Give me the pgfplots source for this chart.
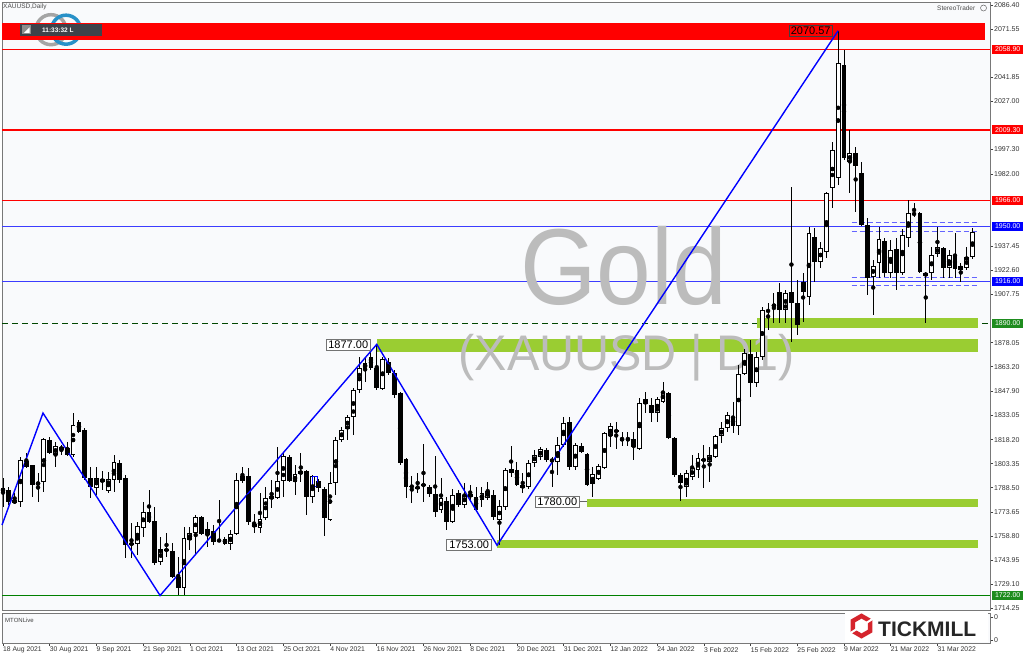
\documentclass[border=0pt]{standalone}
\usepackage{fontspec}
\setmainfont{Liberation Sans}
\usepackage{pgfplots}
\usepackage{pgfplotstable}
\pgfplotsset{compat=1.18}
\definecolor{chartbg}{RGB}{249,250,252}
\definecolor{bandgreen}{RGB}{154,205,50}
\definecolor{mtred}{RGB}{255,0,0}
\definecolor{mtblue}{RGB}{0,0,255}
\definecolor{lineblue}{RGB}{60,60,255}
\definecolor{dashblue}{RGB}{100,100,255}
\definecolor{mtgreen}{RGB}{0,128,0}
\definecolor{lblgreen}{RGB}{30,140,30}
\definecolor{wm}{RGB}{188,188,188}
\definecolor{framegray}{RGB}{120,120,120}
\definecolor{tickred}{RGB}{213,36,44}
\definecolor{darkbox}{RGB}{62,66,74}
\definecolor{ringgray}{RGB}{165,165,165}
\definecolor{ringblue}{RGB}{40,145,200}

\pgfplotstableread{
i O H L C
0 1785.9 1794.5 1776.6 1788.3
1 1787.1 1789.0 1777.9 1779.7
2 1779.1 1785.3 1778.5 1780.9
3 1779.7 1807.5 1776.6 1805.6
4 1805.0 1810.0 1800.7 1801.3
5 1802.5 1802.5 1782.8 1790.2
6 1790.2 1797.6 1779.7 1792.0
7 1792.0 1819.2 1785.9 1818.6
8 1818.0 1819.8 1809.3 1810.0
9 1808.7 1816.7 1801.3 1814.3
10 1811.8 1815.0 1808.7 1813.7
11 1813.0 1816.7 1808.1 1808.7
12 1808.7 1834.6 1807.5 1827.2
13 1829.1 1830.3 1822.3 1822.9
14 1824.1 1825.4 1793.3 1794.5
15 1794.5 1801.3 1782.2 1789.0
16 1788.3 1801.3 1784.0 1794.5
17 1793.9 1798.8 1787.1 1792.0
18 1786.5 1798.2 1785.3 1793.9
19 1793.3 1808.7 1785.9 1804.4
20 1803.8 1805.6 1791.4 1793.3
21 1794.5 1796.4 1745.2 1753.2
22 1753.2 1766.8 1745.2 1754.4
23 1753.8 1767.4 1747.0 1764.9
24 1763.7 1779.7 1758.1 1773.5
25 1773.5 1787.1 1766.8 1767.4
26 1768.0 1776.6 1740.8 1742.1
27 1742.7 1758.1 1740.8 1750.7
28 1750.7 1760.6 1745.8 1749.5
29 1749.5 1754.4 1732.8 1733.4
30 1733.4 1745.8 1722.3 1726.6
31 1726.6 1764.3 1722.3 1757.5
32 1756.3 1764.3 1750.1 1760.6
33 1760.6 1771.7 1747.0 1770.5
34 1770.5 1771.1 1759.3 1760.0
35 1759.3 1767.4 1752.0 1763.0
36 1761.8 1765.5 1753.2 1755.0
37 1756.3 1780.9 1755.0 1755.6
38 1756.9 1758.1 1753.2 1753.8
39 1753.8 1762.4 1750.1 1760.0
40 1760.0 1797.6 1759.3 1793.3
41 1792.7 1801.3 1791.4 1795.7
42 1795.7 1800.7 1765.5 1767.4
43 1766.2 1772.3 1760.6 1764.3
44 1763.7 1785.3 1760.6 1769.2
45 1769.8 1789.0 1768.6 1782.2
46 1781.6 1793.3 1776.0 1783.4
47 1782.2 1813.7 1781.6 1792.7
48 1792.7 1810.0 1782.8 1808.1
49 1807.5 1808.7 1792.0 1792.7
50 1792.0 1802.5 1784.0 1797.0
51 1797.0 1810.0 1792.0 1798.8
52 1798.8 1799.5 1771.7 1782.8
53 1782.8 1796.4 1779.1 1795.7
54 1792.7 1793.9 1785.9 1788.3
55 1787.7 1789.0 1758.7 1769.8
56 1768.6 1798.2 1768.0 1791.4
57 1791.4 1819.8 1784.0 1818.0
58 1818.0 1826.0 1816.7 1824.1
59 1824.8 1833.4 1818.0 1832.2
60 1832.2 1850.1 1821.0 1848.8
61 1848.8 1869.2 1847.0 1862.4
62 1861.8 1869.2 1853.8 1865.5
63 1869.2 1873.5 1861.2 1862.4
64 1862.4 1877.0 1848.8 1850.1
65 1849.4 1869.2 1848.8 1868.0
66 1866.1 1868.6 1858.1 1859.3
67 1859.3 1861.2 1843.9 1845.7
68 1847.0 1847.6 1802.5 1803.8
69 1806.3 1806.9 1782.2 1789.0
70 1789.6 1795.7 1779.1 1789.0
71 1789.0 1797.6 1785.3 1788.3
72 1789.6 1815.5 1779.7 1790.8
73 1789.0 1790.2 1782.8 1784.6
74 1784.6 1808.1 1770.5 1773.5
75 1774.8 1794.5 1772.9 1782.2
76 1780.3 1782.8 1762.4 1767.4
77 1767.4 1787.7 1766.8 1784.0
78 1785.3 1787.1 1776.6 1777.9
79 1777.9 1791.4 1776.0 1784.0
80 1784.6 1790.2 1780.9 1782.8
81 1782.8 1789.0 1773.5 1774.8
82 1780.9 1789.0 1776.6 1785.3
83 1782.2 1792.0 1780.9 1786.5
84 1784.0 1787.1 1768.6 1770.5
85 1768.6 1780.9 1753.0 1777.3
86 1776.6 1800.7 1774.8 1799.5
87 1800.1 1814.3 1795.1 1797.6
88 1799.5 1804.4 1789.6 1790.2
89 1790.2 1797.6 1785.3 1788.3
90 1789.0 1805.6 1787.7 1803.8
91 1803.8 1811.8 1801.3 1808.7
92 1807.5 1813.7 1805.6 1812.4
93 1811.8 1813.0 1804.4 1805.6
94 1806.3 1807.5 1789.0 1804.4
95 1804.4 1819.8 1796.4 1815.0
96 1815.0 1832.2 1813.7 1828.5
97 1829.1 1832.2 1799.5 1801.3
98 1801.3 1816.1 1799.5 1815.0
99 1814.3 1816.1 1810.0 1810.6
100 1809.3 1810.0 1789.6 1790.2
101 1790.8 1801.3 1782.8 1797.0
102 1793.9 1803.2 1793.3 1801.9
103 1800.7 1822.9 1800.1 1822.3
104 1820.4 1828.5 1813.7 1826.6
105 1824.1 1829.1 1812.4 1822.9
106 1819.2 1822.9 1814.3 1817.4
107 1818.6 1822.9 1814.3 1818.0
108 1818.6 1822.9 1805.6 1813.7
109 1812.4 1843.9 1811.8 1840.8
110 1840.2 1847.6 1834.6 1843.3
111 1839.6 1843.9 1829.1 1834.6
112 1834.6 1844.5 1829.1 1843.3
113 1841.4 1853.8 1840.8 1847.6
114 1847.0 1847.6 1818.6 1819.2
115 1819.2 1819.8 1795.1 1796.4
116 1796.4 1797.6 1780.3 1791.4
117 1789.0 1799.5 1782.8 1797.6
118 1795.1 1808.7 1793.3 1800.7
119 1799.5 1810.0 1794.5 1806.9
120 1806.3 1815.0 1788.3 1805.0
121 1804.4 1813.7 1792.0 1808.7
122 1807.5 1821.0 1806.9 1820.4
123 1820.4 1829.1 1816.1 1825.4
124 1825.4 1835.2 1822.9 1833.4
125 1832.2 1841.4 1822.3 1826.6
126 1826.6 1864.3 1821.0 1858.7
127 1858.7 1874.1 1858.1 1871.7
128 1871.0 1879.7 1844.5 1853.1
129 1853.1 1872.3 1850.7 1869.2
130 1869.2 1900.0 1867.3 1898.2
131 1898.2 1902.5 1885.9 1897.0
132 1900.0 1908.7 1890.2 1901.8
133 1909.3 1914.8 1890.2 1898.2
134 1898.2 1910.5 1890.2 1908.7
135 1909.3 1974.1 1878.4 1902.5
136 1902.5 1916.7 1882.8 1888.9
137 1915.5 1921.0 1890.8 1909.3
138 1906.2 1949.4 1901.3 1945.7
139 1943.2 1948.8 1915.5 1927.8
140 1927.8 1940.2 1924.1 1936.5
141 1934.0 1971.0 1930.3 1970.4
142 1973.5 2001.9 1961.1 1996.9
143 1979.6 2070.6 1975.3 2050.6
144 2049.4 2058.6 1990.8 1992.0
145 1989.5 2009.3 1970.4 1995.1
146 1995.1 1998.8 1958.7 1987.1
147 1982.7 1989.5 1950.0 1950.6
148 1950.6 1955.0 1907.5 1917.9
149 1918.6 1929.0 1895.1 1925.4
150 1927.2 1949.4 1917.9 1942.0
151 1940.8 1942.6 1918.6 1921.0
152 1921.0 1941.4 1917.9 1935.2
153 1935.8 1942.6 1910.5 1921.0
154 1921.0 1948.2 1919.8 1944.5
155 1942.6 1966.1 1937.1 1958.1
156 1958.1 1964.2 1955.6 1956.8
157 1958.1 1958.7 1921.0 1921.6
158 1921.0 1921.6 1890.2 1919.2
159 1921.0 1937.1 1916.7 1932.1
160 1932.7 1949.4 1930.9 1937.1
161 1936.5 1937.1 1917.9 1924.1
162 1924.1 1935.2 1917.9 1932.1
163 1932.1 1945.7 1917.9 1923.5
164 1922.9 1927.2 1915.5 1925.4
165 1924.1 1937.1 1922.9 1930.9
166 1930.9 1948.8 1929.7 1946.3
}\candles

\begin{document}
\begin{tikzpicture}[x=1pt,y=1pt]
\fill[white] (0,0) rectangle (1024,658);
\begin{axis}[
  at={(2pt,48pt)}, anchor=south west,
  scale only axis, width=988pt, height=608pt,
  xmin=-0.17, xmax=169.0, ymin=1713.07, ymax=2088.25,
  clip=false,
  axis background/.style={fill=chartbg},
  axis line style={draw=framegray, line width=0.8pt},
  xtick=\empty,
  ytick={2086.40,2071.55,2041.85,2027.00,1997.30,1982.00,1937.45,1922.60,1907.75,1878.05,1863.20,1847.90,1833.05,1818.20,1803.35,1788.50,1773.65,1758.80,1743.95,1729.10,1714.25},
  yticklabels={2086.40,2071.55,2041.85,2027.00,1997.30,1982.00,1937.45,1922.60,1907.75,1878.05,1863.20,1847.90,1833.05,1818.20,1803.35,1788.50,1773.65,1758.80,1743.95,1729.10,1714.25},
  ytick pos=right, yticklabel pos=right,
  tick align=outside, major tick length=3pt,
  ytick style={draw=black!75, line width=0.6pt},
  yticklabel style={font=\fontsize{7}{8}\selectfont, text=black!80, inner sep=1pt},
]
% logo rings (behind the red band)
\draw[ringgray, line width=3.5pt] (axis cs:8.22,2071.16) circle[radius=15pt];
\draw[ringblue, line width=3.5pt] (axis cs:10.79,2071.16) circle[radius=14.5pt];
% top red band
\addplot[fill=mtred, draw=none, forget plot] coordinates {(-0.17,2064.8) (168.2,2064.8) (168.2,2075.3) (-0.17,2075.3)} -- cycle;
% horizontal levels
\addplot[draw=mtred, line width=1.2pt, forget plot] coordinates {(-0.17,2058.9) (169.0,2058.9)};
\addplot[draw=mtred, line width=1.2pt, forget plot] coordinates {(-0.17,2009.3) (169.0,2009.3)};
\addplot[draw=mtred, line width=1.2pt, forget plot] coordinates {(-0.17,1966.0) (169.0,1966.0)};
\addplot[draw=lineblue, line width=1.0pt, forget plot] coordinates {(-0.17,1950.0) (169.0,1950.0)};
\addplot[draw=lineblue, line width=1.0pt, forget plot] coordinates {(-0.17,1916.0) (169.0,1916.0)};
\addplot[draw=black!45!mtgreen, line width=0.7pt, dash pattern=on 6pt off 4pt, forget plot] coordinates {(-0.17,1890.0) (169.0,1890.0)};
\addplot[draw=mtgreen, line width=1.2pt, forget plot] coordinates {(-0.17,1722.0) (169.0,1722.0)};
% green zones
\addplot[fill=bandgreen, draw=none, forget plot] coordinates {(129.1,1887.1) (167.0,1887.1) (167.0,1893.3) (129.1,1893.3)} -- cycle;
\addplot[fill=bandgreen, draw=none, forget plot] coordinates {(64.0,1872.3) (167.0,1872.3) (167.0,1880.3) (64.0,1880.3)} -- cycle;
\addplot[fill=bandgreen, draw=none, forget plot] coordinates {(100.0,1776.6) (167.0,1776.6) (167.0,1781.5) (100.0,1781.5)} -- cycle;
\addplot[fill=bandgreen, draw=none, forget plot] coordinates {(84.6,1751.3) (167.0,1751.3) (167.0,1756.3) (84.6,1756.3)} -- cycle;
% dashed range boxes
\addplot[draw=dashblue, line width=0.7pt, dash pattern=on 5pt off 3pt, forget plot] coordinates {(145.3,1952.5) (167.2,1952.5)};
\addplot[draw=dashblue, line width=0.7pt, dash pattern=on 5pt off 3pt, forget plot] coordinates {(145.3,1946.9) (167.2,1946.9)};
\addplot[draw=dashblue, line width=0.7pt, dash pattern=on 5pt off 3pt, forget plot] coordinates {(145.3,1918.5) (167.2,1918.5)};
\addplot[draw=dashblue, line width=0.7pt, dash pattern=on 5pt off 3pt, forget plot] coordinates {(145.3,1913.6) (167.2,1913.6)};
% watermark
\node[anchor=base, text=wm, font=\fontsize{108}{108}\selectfont, xscale=0.91, inner sep=0pt] at (axis cs:106.3,1901.3) {Gold};
\node[anchor=base, text=wm, font=\fontsize{50}{50}\selectfont, xscale=0.97, inner sep=0pt] at (axis cs:106.8,1860.6) {(XAUUSD | D1)};
% candles: wicks
\addplot[only marks, mark=none, forget plot,
  error bars/.cd, y dir=both, y explicit, error mark=none,
  error bar style={draw=black, line width=0.9pt}]
  table[x=i, y expr={(\thisrow{H}+\thisrow{L})/2}, y error expr={(\thisrow{H}-\thisrow{L})/2}]{\candles};
% candle bodies (black, and outlines of white)
\addplot[only marks, mark=none, forget plot,
  error bars/.cd, y dir=both, y explicit, error mark=none,
  error bar style={draw=black, line width=4.8pt}]
  table[x=i, y expr={(\thisrow{O}+\thisrow{C})/2}, y error expr={max(abs(\thisrow{O}-\thisrow{C})/2,0.35)}]{\candles};
% white fill of rising candles
\addplot[only marks, mark=none, forget plot,
  restrict expr to domain={\thisrow{C}-\thisrow{O}}{1.4:1000},
  error bars/.cd, y dir=both, y explicit, error mark=none,
  error bar style={draw=white, line width=2.9pt}]
  table[x=i, y expr={(\thisrow{O}+\thisrow{C})/2}, y error expr={(\thisrow{C}-\thisrow{O})/2-0.62}]{\candles};
% small blue marker box
\addplot[draw=mtblue, line width=0.6pt, forget plot] coordinates {(52.9,1789.6) (53.9,1789.6) (53.9,1795.7) (52.9,1795.7)} -- cycle;
% zigzag
\addplot[draw=mtblue, line width=1.4pt, forget plot] coordinates {(-0.17,1765.5) (6.85,1834.6) (26.9,1722.0) (64.0,1877.0) (84.6,1753.0) (143.0,2070.57)};
\addplot[draw=black!60, line width=0.6pt, forget plot] coordinates {(98.8,1780.0) (100.0,1780.0)};
% price labels
\node[anchor=east, draw=black!55, fill=white, line width=0.6pt, font=\fontsize{11}{12}\selectfont, inner xsep=2.5pt, inner ysep=1.5pt] at (axis cs:63.0,1876.8) {1877.00};
\node[anchor=east, draw=black!55, fill=white, line width=0.6pt, font=\fontsize{11}{12}\selectfont, inner xsep=2.5pt, inner ysep=1.5pt] at (axis cs:83.7,1753.3) {1753.00};
\node[anchor=east, draw=black!55, fill=white, line width=0.6pt, font=\fontsize{11}{12}\selectfont, inner xsep=2.5pt, inner ysep=1.5pt] at (axis cs:98.8,1780.0) {1780.00};
\node[anchor=east, draw=black!75, line width=0.6pt, font=\fontsize{11}{12}\selectfont, inner xsep=2pt, inner ysep=1.5pt] at (axis cs:142.1,2070.7) {2070.57};
% right-hand level tags
\node[anchor=west, xshift=2pt, fill=mtred, text=white, font=\fontsize{7}{8}\selectfont, inner sep=0pt, minimum width=31pt, minimum height=9pt] at (axis cs:169.0,2058.9) {2058.90};
\node[anchor=west, xshift=2pt, fill=mtred, text=white, font=\fontsize{7}{8}\selectfont, inner sep=0pt, minimum width=31pt, minimum height=9pt] at (axis cs:169.0,2009.3) {2009.30};
\node[anchor=west, xshift=2pt, fill=mtred, text=white, font=\fontsize{7}{8}\selectfont, inner sep=0pt, minimum width=31pt, minimum height=9pt] at (axis cs:169.0,1966.0) {1966.00};
\node[anchor=west, xshift=2pt, fill=mtblue, text=white, font=\fontsize{7}{8}\selectfont, inner sep=0pt, minimum width=31pt, minimum height=9pt] at (axis cs:169.0,1950.0) {1950.00};
\node[anchor=west, xshift=2pt, fill=mtblue, text=white, font=\fontsize{7}{8}\selectfont, inner sep=0pt, minimum width=31pt, minimum height=9pt] at (axis cs:169.0,1916.0) {1916.00};
\node[anchor=west, xshift=2pt, fill=lblgreen, text=white, font=\fontsize{7}{8}\selectfont, inner sep=0pt, minimum width=31pt, minimum height=9pt] at (axis cs:169.0,1890.0) {1890.00};
\node[anchor=west, xshift=2pt, fill=lblgreen, text=white, font=\fontsize{7}{8}\selectfont, inner sep=0pt, minimum width=31pt, minimum height=9pt] at (axis cs:169.0,1722.0) {1722.00};
\end{axis}

% lower indicator panel with the date axis
\begin{axis}[
  at={(2pt,15pt)}, anchor=south west,
  scale only axis, width=988pt, height=30pt,
  xmin=-0.17, xmax=169.0, ymin=0, ymax=1,
  axis background/.style={fill=chartbg},
  axis line style={draw=framegray, line width=0.8pt},
  xtick={0,8,...,160},
  xticklabels={18 Aug 2021,30 Aug 2021,9 Sep 2021,21 Sep 2021,1 Oct 2021,13 Oct 2021,25 Oct 2021,4 Nov 2021,16 Nov 2021,26 Nov 2021,8 Dec 2021,20 Dec 2021,31 Dec 2021,12 Jan 2022,24 Jan 2022,3 Feb 2022,15 Feb 2022,25 Feb 2022,9 Mar 2022,21 Mar 2022,31 Mar 2022},
  xtick pos=bottom, xticklabel pos=lower,
  ytick={0.1,0.87}, yticklabels={0,0},
  ytick pos=right, yticklabel pos=right,
  tick align=outside, major tick length=3pt,
  tick style={draw=black!75, line width=0.6pt},
  xticklabel style={font=\fontsize{6.8}{8}\selectfont, text=black!80, anchor=north west, xshift=-1pt, inner sep=1pt},
  yticklabel style={font=\fontsize{7}{8}\selectfont, text=black!80, inner sep=1pt},
]
\end{axis}

% decorations in picture coordinates (1pt = 1px)
\node[anchor=west, font=\fontsize{6.5}{7}\selectfont, text=black!70, inner sep=0pt] at (3,651) {XAUUSD,Daily};
\fill[darkbox] (20,622) rectangle (102,634);
\fill[black!45] (22,623.5) rectangle (31,632.5);
\fill[white] (24,625) -- (29.5,625) -- (29.5,630.5) -- cycle;
\node[anchor=west, font=\fontsize{6.5}{7}\selectfont\bfseries, text=white, inner sep=0pt] at (42,628) {11:33:32 L};
\node[anchor=west, font=\fontsize{6.5}{7}\selectfont, text=black!70, inner sep=0pt] at (937,650) {StereoTrader};
\draw[black!60, line width=0.5pt] (983.5,650) circle[radius=3pt];
\node[anchor=west, font=\fontsize{6}{7}\selectfont, text=black!75, inner sep=0pt] at (5,38) {MTONLive};
% Tickmill logo
\fill[white] (845,16) rectangle (988,45);
\draw[tickred, line width=4.5pt, line join=miter] (861.5,42) -- (870.2,37) -- (870.2,27) -- (861.5,22) -- (852.8,27) -- (852.8,37) -- cycle;
\draw[white, line width=2pt] (861.5,32) -- (874,40);
\draw[white, line width=2pt] (861.5,32) -- (849,24);
\node[anchor=base west, font=\fontsize{21}{21}\selectfont\bfseries, text=black!85, inner sep=0pt] at (878,22) {TICKMILL};
\pgfresetboundingbox
\useasboundingbox (0,0) rectangle (1024,658);
\end{tikzpicture}
\end{document}
